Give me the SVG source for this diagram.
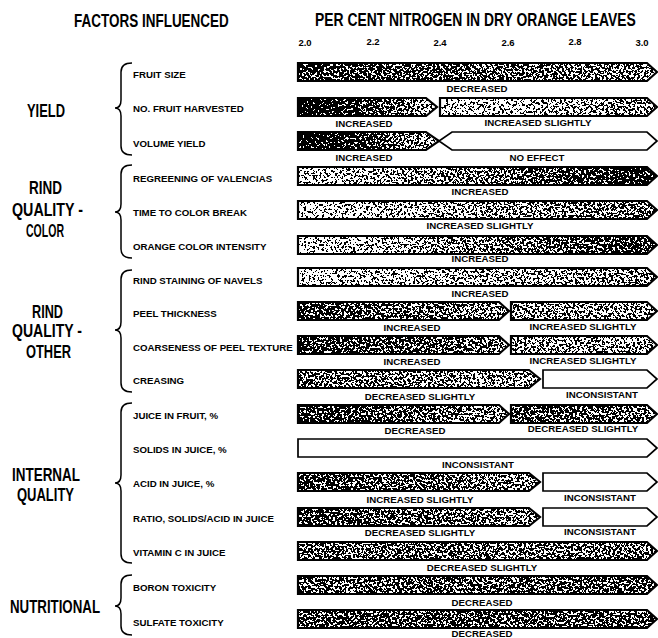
<svg xmlns="http://www.w3.org/2000/svg" width="658" height="638" viewBox="0 0 658 638">
<style>
.hd{font-family:"Liberation Sans",Arial,sans-serif;font-weight:bold;font-size:19px;fill:#000}
.grp{font-family:"Liberation Sans",Arial,sans-serif;font-weight:bold;font-size:19px;fill:#000}
.item{font-family:"Liberation Sans",Arial,sans-serif;font-weight:bold;font-size:9.7px;fill:#000}
.val{font-family:"Liberation Sans",Arial,sans-serif;font-weight:bold;font-size:9.7px;fill:#000;text-anchor:middle}
.tick{font-family:"Liberation Sans",Arial,sans-serif;font-weight:bold;font-size:9.5px;fill:#000;text-anchor:middle}
.st{filter:url(#dith)}
.ol{fill:none;stroke:#000;stroke-width:2.2;stroke-linejoin:miter}
.wb{fill:#fff;stroke:#000;stroke-width:1.7}
.brace{fill:none;stroke:#000;stroke-width:1.5}
</style>
<defs>
<filter id="dith" x="0" y="0" width="1" height="1" color-interpolation-filters="sRGB">
<feTurbulence type="fractalNoise" baseFrequency="0.45" numOctaves="2" seed="7" result="t"/>
<feColorMatrix in="t" type="matrix" values="-3 0 0 0 2  -3 0 0 0 2  -3 0 0 0 2  0 0 0 0 1" result="n"/>
<feComposite in="SourceGraphic" in2="n" operator="arithmetic" k1="0" k2="1" k3="1" k4="-0.5" result="s"/>
<feComponentTransfer in="s" result="d">
<feFuncR type="discrete" tableValues="0 1"/>
<feFuncG type="discrete" tableValues="0 1"/>
<feFuncB type="discrete" tableValues="0 1"/>
</feComponentTransfer>
<feComposite in="d" in2="SourceAlpha" operator="in"/>
</filter>
<linearGradient id="g1"><stop offset="0" stop-color="#4a4a4a"/><stop offset="1" stop-color="#858585"/></linearGradient>
<linearGradient id="g2a"><stop offset="0" stop-color="#000"/><stop offset="0.25" stop-color="#1a1a1a"/><stop offset="1" stop-color="#aaa"/></linearGradient>
<linearGradient id="g2b"><stop offset="0" stop-color="#b8b8b8"/><stop offset="1" stop-color="#888"/></linearGradient>
<linearGradient id="g4"><stop offset="0" stop-color="#b8b8b8"/><stop offset="0.6" stop-color="#707070"/><stop offset="1" stop-color="#141414"/></linearGradient>
<linearGradient id="g5"><stop offset="0" stop-color="#c0c0c0"/><stop offset="1" stop-color="#707070"/></linearGradient>
<linearGradient id="g6"><stop offset="0" stop-color="#c0c0c0"/><stop offset="1" stop-color="#444"/></linearGradient>
<linearGradient id="g7"><stop offset="0" stop-color="#b8b8b8"/><stop offset="1" stop-color="#858585"/></linearGradient>
<linearGradient id="g8a"><stop offset="0" stop-color="#4a4a4a"/><stop offset="1" stop-color="#888"/></linearGradient>
<linearGradient id="g8b"><stop offset="0" stop-color="#888"/><stop offset="1" stop-color="#989898"/></linearGradient>
<linearGradient id="g9a"><stop offset="0" stop-color="#444"/><stop offset="1" stop-color="#7a7a7a"/></linearGradient>
<linearGradient id="g10a"><stop offset="0" stop-color="#707070"/><stop offset="1" stop-color="#989898"/></linearGradient>
<linearGradient id="g11a"><stop offset="0" stop-color="#444"/><stop offset="1" stop-color="#888"/></linearGradient>
<linearGradient id="g11b"><stop offset="0" stop-color="#555"/><stop offset="1" stop-color="#7a7a7a"/></linearGradient>
<linearGradient id="g13a"><stop offset="0" stop-color="#4a4a4a"/><stop offset="1" stop-color="#888"/></linearGradient>
<linearGradient id="g15"><stop offset="0" stop-color="#6a6a6a"/><stop offset="1" stop-color="#757575"/></linearGradient>
<linearGradient id="g16"><stop offset="0" stop-color="#6a6a6a"/><stop offset="1" stop-color="#606060"/></linearGradient>
<linearGradient id="g17"><stop offset="0" stop-color="#555"/><stop offset="1" stop-color="#606060"/></linearGradient>
</defs>
<rect width="658" height="638" fill="#fff"/>

<g id="header">
<text class="hd" transform="translate(74,27) scale(0.71,1)" x="0" y="0">FACTORS INFLUENCED</text>
<text class="hd" transform="translate(315,26) scale(0.732,1)" x="0" y="0">PER CENT NITROGEN IN DRY ORANGE LEAVES</text>
<text class="tick" x="305" y="46">2.0</text>
<text class="tick" x="373" y="45">2.2</text>
<text class="tick" x="440" y="46">2.4</text>
<text class="tick" x="508" y="46">2.6</text>
<text class="tick" x="575" y="45">2.8</text>
<text class="tick" x="642" y="46">3.0</text>
</g>

<g id="group-yield"><text class="grp" x="27" y="117" textLength="38" lengthAdjust="spacingAndGlyphs">YIELD</text></g>
<g id="group-rind-color">
<text class="grp" x="29" y="194" textLength="33" lengthAdjust="spacingAndGlyphs">RIND</text>
<text class="grp" x="12" y="216" textLength="71" lengthAdjust="spacingAndGlyphs">QUALITY -</text>
<text class="grp" x="26" y="237" textLength="38" lengthAdjust="spacingAndGlyphs">COLOR</text>
</g>
<g id="group-rind-other">
<text class="grp" x="32" y="318" textLength="31" lengthAdjust="spacingAndGlyphs">RIND</text>
<text class="grp" x="12" y="337" textLength="70" lengthAdjust="spacingAndGlyphs">QUALITY -</text>
<text class="grp" x="26" y="358" textLength="45" lengthAdjust="spacingAndGlyphs">OTHER</text>
</g>
<g id="group-internal">
<text class="grp" x="12" y="481" textLength="68" lengthAdjust="spacingAndGlyphs">INTERNAL</text>
<text class="grp" x="17" y="501" textLength="57" lengthAdjust="spacingAndGlyphs">QUALITY</text>
</g>
<g id="group-nutritional"><text class="grp" x="10" y="613" textLength="90" lengthAdjust="spacingAndGlyphs">NUTRITIONAL</text></g>

<g id="connectors">
<path class="brace" d="M132,63 Q121,63 121,72 L121,100 Q121,108 115,108 Q121,108 121,116 L121,146 Q121,155 132,155"/>
<path class="brace" d="M132,165 Q121,165 121,174 L121,204 Q121,212 115,212 Q121,212 121,220 L121,249 Q121,258 132,258"/>
<path class="brace" d="M132,270 Q121,270 121,279 L121,322 Q121,330 115,330 Q121,330 121,338 L121,383 Q121,392 132,392"/>
<path class="brace" d="M132,403 Q121,403 121,412 L121,475 Q121,483 115,483 Q121,483 121,491 L121,554 Q121,563 132,563"/>
<path class="brace" d="M132,575 Q121,575 121,584 L121,598 Q121,606 115,606 Q121,606 121,614 L121,626 Q121,635 132,635"/>
</g>

<g id="row-fruit-size">
<text class="item" x="133" y="77.5">FRUIT SIZE</text>
<polygon class="st" fill="url(#g1)" points="298,63 647,63 657,72 647,81 298,81"/>
<polygon class="ol" points="298,63 647,63 657,72 647,81 298,81"/>
<text class="val" x="477" y="91.5">DECREASED</text>
</g>

<g id="row-no-fruit">
<text class="item" x="133" y="111.5">NO. FRUIT HARVESTED</text>
<polygon class="st" fill="url(#g2a)" points="298,98 426,98 437,107 426,116 298,116"/>
<polygon class="ol" points="298,98 426,98 437,107 426,116 298,116"/>
<polygon class="st" fill="url(#g2b)" points="440,98 647,98 657,107 647,116 440,116"/>
<polygon class="ol" points="440,98 647,98 657,107 647,116 440,116"/>
<text class="val" x="364" y="126.5">INCREASED</text>
<text class="val" x="538" y="126">INCREASED SLIGHTLY</text>
</g>

<g id="row-volume-yield">
<text class="item" x="133" y="146.5">VOLUME YIELD</text>
<polygon class="st" fill="url(#g2a)" points="298,132 426,132 439,141 426,150 298,150"/>
<polygon class="ol" points="298,132 426,132 439,141 426,150 298,150"/>
<polygon class="wb" points="452,132 647,132 657,141 647,150 452,150 439,141"/>
<text class="val" x="364" y="161">INCREASED</text>
<text class="val" x="537" y="161">NO EFFECT</text>
</g>

<g id="row-regreening">
<text class="item" x="133" y="181.5">REGREENING OF VALENCIAS</text>
<polygon class="st" fill="url(#g4)" points="298,167 647,167 657,176 647,185 298,185"/>
<polygon class="ol" points="298,167 647,167 657,176 647,185 298,185"/>
<text class="val" x="480" y="195">INCREASED</text>
</g>

<g id="row-color-break">
<text class="item" x="133" y="215.5">TIME TO COLOR BREAK</text>
<polygon class="st" fill="url(#g5)" points="298,201 647,201 657,210 647,219 298,219"/>
<polygon class="ol" points="298,201 647,201 657,210 647,219 298,219"/>
<text class="val" x="480" y="229">INCREASED SLIGHTLY</text>
</g>

<g id="row-orange-color">
<text class="item" x="133" y="249.5">ORANGE COLOR INTENSITY</text>
<polygon class="st" fill="url(#g6)" points="298,236 647,236 657,245 647,254 298,254"/>
<polygon class="ol" points="298,236 647,236 657,245 647,254 298,254"/>
<text class="val" x="480" y="262">INCREASED</text>
</g>

<g id="row-rind-staining">
<text class="item" x="133" y="283.5">RIND STAINING OF NAVELS</text>
<polygon class="st" fill="url(#g7)" points="298,268 647,268 657,277 647,286 298,286"/>
<polygon class="ol" points="298,268 647,268 657,277 647,286 298,286"/>
<text class="val" x="480" y="296.5">INCREASED</text>
</g>

<g id="row-peel-thickness">
<text class="item" x="133" y="316.5">PEEL THICKNESS</text>
<polygon class="st" fill="url(#g8a)" points="298,302 499,302 509,311 499,320 298,320"/>
<polygon class="ol" points="298,302 499,302 509,311 499,320 298,320"/>
<polygon class="st" fill="url(#g8b)" points="511,302 647,302 657,311 647,320 511,320"/>
<polygon class="ol" points="511,302 647,302 657,311 647,320 511,320"/>
<text class="val" x="412" y="330.5">INCREASED</text>
<text class="val" x="583" y="329.5">INCREASED SLIGHTLY</text>
</g>

<g id="row-coarseness">
<text class="item" x="133" y="350.5">COARSENESS OF PEEL TEXTURE</text>
<polygon class="st" fill="url(#g9a)" points="298,336 499,336 509,345 499,354 298,354"/>
<polygon class="ol" points="298,336 499,336 509,345 499,354 298,354"/>
<polygon class="st" fill="url(#g8b)" points="511,336 647,336 657,345 647,354 511,354"/>
<polygon class="ol" points="511,336 647,336 657,345 647,354 511,354"/>
<text class="val" x="412" y="364.5">INCREASED</text>
<text class="val" x="583" y="364">INCREASED SLIGHTLY</text>
</g>

<g id="row-creasing">
<text class="item" x="133" y="383.5">CREASING</text>
<polygon class="st" fill="url(#g10a)" points="298,370 529,370 540,379 529,388 298,388"/>
<polygon class="ol" points="298,370 529,370 540,379 529,388 298,388"/>
<polygon class="wb" points="543,370 647,370 657,379 647,388 543,388"/>
<text class="val" x="420" y="399.5">DECREASED SLIGHTLY</text>
<text class="val" x="602" y="397.5">INCONSISTANT</text>
</g>

<g id="row-juice">
<text class="item" x="133" y="418.5">JUICE IN FRUIT, %</text>
<polygon class="st" fill="url(#g11a)" points="298,405 499,405 509,414 499,423 298,423"/>
<polygon class="ol" points="298,405 499,405 509,414 499,423 298,423"/>
<polygon class="st" fill="url(#g11b)" points="511,405 647,405 657,414 647,423 511,423"/>
<polygon class="ol" points="511,405 647,405 657,414 647,423 511,423"/>
<text class="val" x="415" y="433.5">DECREASED</text>
<text class="val" x="583" y="431.5">DECREASED SLIGHTLY</text>
</g>

<g id="row-solids">
<text class="item" x="133" y="452.5">SOLIDS IN JUICE, %</text>
<polygon class="wb" points="298,439 647,439 657,448 647,457 298,457"/>
<text class="val" x="478" y="467.5">INCONSISTANT</text>
</g>

<g id="row-acid">
<text class="item" x="133" y="486.5">ACID IN JUICE, %</text>
<polygon class="st" fill="url(#g13a)" points="298,473 529,473 540,482 529,491 298,491"/>
<polygon class="ol" points="298,473 529,473 540,482 529,491 298,491"/>
<polygon class="wb" points="543,473 647,473 657,482 647,491 543,491"/>
<text class="val" x="420" y="502.5">INCREASED SLIGHTLY</text>
<text class="val" x="600" y="500.5">INCONSISTANT</text>
</g>

<g id="row-ratio">
<text class="item" x="133" y="521.5">RATIO, SOLIDS/ACID IN JUICE</text>
<polygon class="st" fill="url(#g13a)" points="298,508 529,508 540,517 529,526 298,526"/>
<polygon class="ol" points="298,508 529,508 540,517 529,526 298,526"/>
<polygon class="wb" points="543,508 647,508 657,517 647,526 543,526"/>
<text class="val" x="420" y="536">DECREASED SLIGHTLY</text>
<text class="val" x="600" y="535">INCONSISTANT</text>
</g>

<g id="row-vitamin-c">
<text class="item" x="133" y="555.5">VITAMIN C IN JUICE</text>
<polygon class="st" fill="url(#g15)" points="298,542 647,542 657,551 647,560 298,560"/>
<polygon class="ol" points="298,542 647,542 657,551 647,560 298,560"/>
<text class="val" x="482" y="570.5">DECREASED SLIGHTLY</text>
</g>

<g id="row-boron">
<text class="item" x="133" y="590.5">BORON TOXICITY</text>
<polygon class="st" fill="url(#g16)" points="298,576 647,576 657,585 647,594 298,594"/>
<polygon class="ol" points="298,576 647,576 657,585 647,594 298,594"/>
<text class="val" x="482" y="605.5">DECREASED</text>
</g>

<g id="row-sulfate">
<text class="item" x="133" y="625.5">SULFATE TOXICITY</text>
<polygon class="st" fill="url(#g17)" points="298,610 647,610 657,619 647,628 298,628"/>
<polygon class="ol" points="298,610 647,610 657,619 647,628 298,628"/>
<text class="val" x="482" y="637">DECREASED</text>
</g>
</svg>
